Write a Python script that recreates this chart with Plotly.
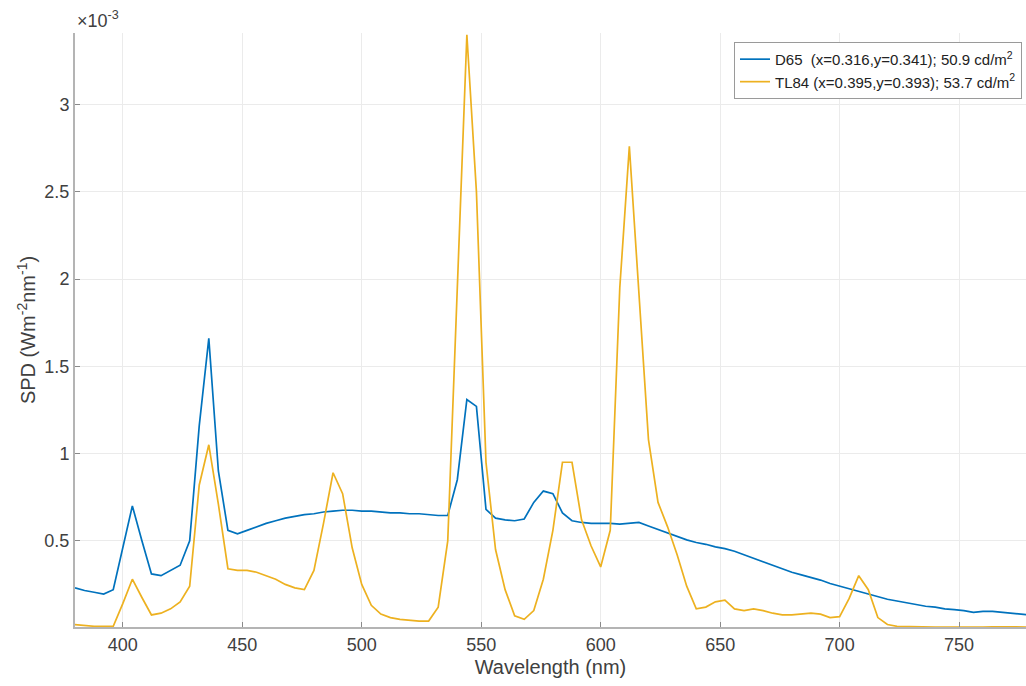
import plotly.graph_objects as go

# Wavelength grid (nm)
wavelength = [380, 384, 388, 392, 396, 400, 404, 408, 412, 416, 420, 424, 428, 432, 436, 440, 444, 448,
              452, 456, 460, 464, 468, 472, 476, 480, 484, 488, 492, 496, 500, 504, 508, 512, 516, 520,
              524, 528, 532, 536, 540, 544, 548, 552, 556, 560, 564, 568, 572, 576, 580, 584, 588, 592,
              596, 600, 604, 608, 612, 616, 620, 624, 628, 632, 636, 640, 644, 648, 652, 656, 660, 664,
              668, 672, 676, 680, 684, 688, 692, 696, 700, 704, 708, 712, 716, 720, 724, 728, 732, 736,
              740, 744, 748, 752, 756, 760, 764, 768, 772, 776, 780]

# Spectral power distributions, in units of 1e-3 W m^-2 nm^-1
spd_d65 = [0.23, 0.215, 0.205, 0.195, 0.22, 0.46, 0.70, 0.50, 0.31, 0.30, 0.33, 0.36, 0.50, 1.16, 1.66, 0.90,
           0.56, 0.54, 0.56, 0.58, 0.60, 0.615, 0.63, 0.64, 0.65, 0.655, 0.665, 0.67, 0.675, 0.675, 0.67,
           0.67, 0.665, 0.66, 0.66, 0.655, 0.655, 0.65, 0.645, 0.645, 0.85, 1.31, 1.27, 0.68, 0.63, 0.62,
           0.615, 0.625, 0.72, 0.785, 0.77, 0.66, 0.615, 0.605, 0.60, 0.60, 0.60, 0.595, 0.60, 0.605, 0.585,
           0.565, 0.545, 0.525, 0.505, 0.49, 0.48, 0.465, 0.455, 0.44, 0.42, 0.40, 0.38, 0.36, 0.34, 0.32,
           0.305, 0.29, 0.275, 0.255, 0.24, 0.225, 0.21, 0.195, 0.18, 0.165, 0.155, 0.145, 0.135, 0.125,
           0.12, 0.11, 0.105, 0.10, 0.09, 0.095, 0.095, 0.09, 0.085, 0.08, 0.075]

spd_tl84 = [0.02, 0.015, 0.01, 0.01, 0.01, 0.14, 0.28, 0.175, 0.075, 0.085, 0.11, 0.15, 0.24, 0.82, 1.05, 0.71,
            0.34, 0.33, 0.33, 0.32, 0.30, 0.28, 0.25, 0.23, 0.22, 0.33, 0.60, 0.89, 0.77, 0.46, 0.25, 0.13,
            0.08, 0.06, 0.05, 0.045, 0.04, 0.04, 0.12, 0.50, 1.90, 3.40, 2.50, 0.95, 0.45, 0.22, 0.07, 0.05,
            0.10, 0.28, 0.56, 0.95, 0.95, 0.62, 0.47, 0.35, 0.56, 1.95, 2.76, 1.95, 1.08, 0.72, 0.58, 0.42,
            0.24, 0.11, 0.12, 0.15, 0.16, 0.11, 0.10, 0.11, 0.10, 0.085, 0.075, 0.075, 0.08, 0.085, 0.08,
            0.06, 0.065, 0.17, 0.30, 0.22, 0.06, 0.02, 0.01, 0.008, 0.006, 0.006, 0.005, 0.006, 0.005, 0.005,
            0.006, 0.006, 0.007, 0.006, 0.006, 0.006, 0.006]

legend_d65 = "D65  (x=0.316,y=0.341); 50.9 cd/m<sup>2</sup>"
legend_tl84 = "TL84 (x=0.395,y=0.393); 53.7 cd/m<sup>2</sup>"

x_ticks = [400, 450, 500, 550, 600, 650, 700, 750]
y_ticks = [0.5, 1, 1.5, 2, 2.5, 3]
y_tick_labels = ["0.5", "1", "1.5", "2", "2.5", "3"]

FONT = "Liberation Sans, Arial, Helvetica, sans-serif"
TEXT = "#404040"

fig = go.Figure()
fig.add_trace(go.Scatter(x=wavelength, y=spd_d65, mode="lines", name=legend_d65,
                         line=dict(color="#0072BD", width=1.7)))
fig.add_trace(go.Scatter(x=wavelength, y=spd_tl84, mode="lines", name=legend_tl84,
                         line=dict(color="#EDB120", width=1.7)))

axis_common = dict(
    showgrid=True, gridcolor="#ebebeb", gridwidth=1,
    showline=True, linecolor="#b4b4b4", linewidth=2,
    ticks="inside", ticklen=5, tickcolor="#8a8a8a", tickwidth=1,
    tickfont=dict(family=FONT, size=18, color=TEXT),
    zeroline=False,
)

fig.update_xaxes(range=[380, 778], tickvals=x_ticks,
                 title=dict(text="Wavelength (nm)", font=dict(family=FONT, size=20, color=TEXT), standoff=6),
                 **axis_common)
fig.update_yaxes(range=[0.006, 3.41], tickvals=y_ticks, ticktext=y_tick_labels,
                 title=dict(text="SPD (Wm<sup>-2</sup>nm<sup>-1</sup>)",
                            font=dict(family=FONT, size=20, color=TEXT), standoff=3),
                 **axis_common)

fig.add_annotation(text="\u00d710<sup>-3</sup>", xref="paper", yref="paper", x=0.0, y=1.0,
                   xanchor="left", yanchor="bottom", showarrow=False, yshift=0, xshift=0,
                   font=dict(family=FONT, size=18, color=TEXT))

fig.update_layout(
    width=1026, height=686,
    margin=dict(l=75, r=0, t=33, b=59),
    paper_bgcolor="white", plot_bgcolor="white",
    showlegend=True,
    legend=dict(x=0.9958, y=0.985, xanchor="right", yanchor="top",
                bgcolor="white", bordercolor="#9a9a9a", borderwidth=1,
                font=dict(family=FONT, size=15, color="#222222"),
                itemwidth=30, tracegroupgap=0),
)

fig.write_html("out.html")
